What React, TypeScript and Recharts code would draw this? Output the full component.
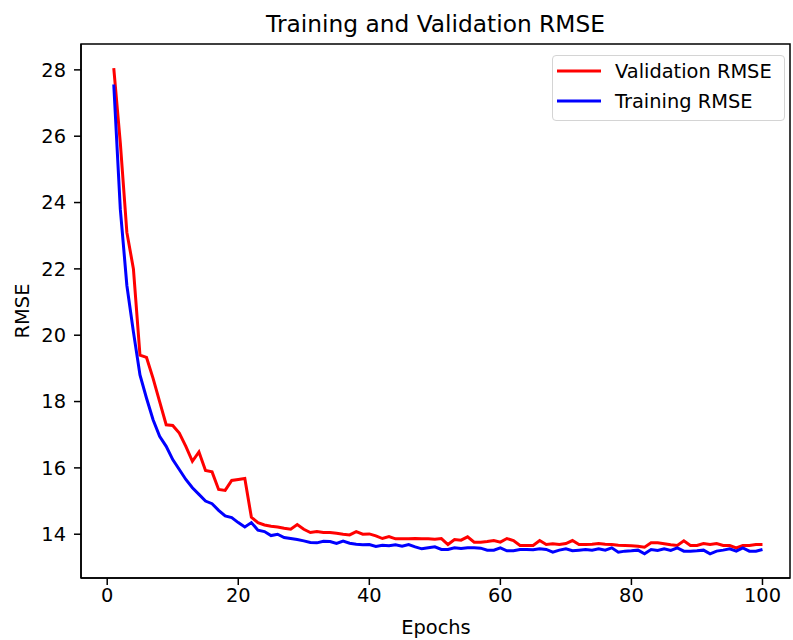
import React from 'react';
import { LineChart, Line, XAxis, YAxis, ReferenceArea, Legend } from 'recharts';

const validationRmse = [
    28.05, 25.8, 23.1, 22.0, 19.4, 19.33, 18.7, 18.0, 17.3, 17.28,
    17.05, 16.65, 16.2, 16.48, 15.92, 15.88, 15.35, 15.32, 15.62, 15.65,
    15.68, 14.51, 14.35, 14.28, 14.24, 14.22, 14.18, 14.15, 14.29, 14.15,
    14.05, 14.08, 14.05, 14.05, 14.03, 14.0, 13.98, 14.08, 14.0, 14.01,
    13.95, 13.87, 13.93, 13.86, 13.86, 13.86, 13.87, 13.86, 13.86, 13.85,
    13.87, 13.69, 13.84, 13.82, 13.92, 13.76, 13.76, 13.78, 13.81, 13.76,
    13.87, 13.81, 13.66, 13.66, 13.66, 13.81, 13.69, 13.71, 13.69, 13.72,
    13.81, 13.69, 13.69, 13.7, 13.72, 13.7, 13.69, 13.67, 13.66, 13.65,
    13.64, 13.61, 13.74, 13.74, 13.71, 13.68, 13.66, 13.8, 13.66, 13.66,
    13.72, 13.69, 13.72, 13.66, 13.66, 13.59, 13.66, 13.66, 13.69, 13.69,
];

const trainingRmse = [
    27.56, 23.8, 21.5, 20.1, 18.8, 18.1, 17.45, 16.95, 16.65, 16.25,
    15.95, 15.65, 15.4, 15.2, 15.0, 14.92, 14.72, 14.55, 14.5, 14.35,
    14.22, 14.35, 14.12, 14.08, 13.96, 14.0, 13.9, 13.87, 13.84, 13.8,
    13.75, 13.74, 13.79, 13.78, 13.72, 13.79, 13.73, 13.7, 13.68, 13.69,
    13.63, 13.67, 13.65, 13.68, 13.64, 13.69, 13.62, 13.56, 13.59, 13.62,
    13.54, 13.54, 13.59, 13.57, 13.59, 13.59, 13.58, 13.52, 13.52, 13.59,
    13.5, 13.5, 13.54, 13.54, 13.53, 13.56, 13.54, 13.46, 13.52, 13.56,
    13.5, 13.52, 13.54, 13.52, 13.56, 13.52, 13.59, 13.46, 13.49, 13.5,
    13.52, 13.41, 13.54, 13.51, 13.56, 13.51, 13.59, 13.49, 13.49, 13.5,
    13.52, 13.41, 13.49, 13.52, 13.56, 13.49, 13.59, 13.49, 13.49, 13.54,
];

const xTicks = [0, 20, 40, 60, 80, 100];
const yTicks = [14, 16, 18, 20, 22, 24, 26, 28];

const FONT = '"DejaVu Sans", sans-serif';
const X_DOMAIN: [number, number] = [-4, 104.2];
const Y_DOMAIN: [number, number] = [12.68, 28.78];

const data = validationRmse.map((v, i) => ({
    epoch: i + 1,
    validation: v,
    training: trainingRmse[i],
}));

const tickStyle = { fill: '#000', fontSize: 19.4, fontFamily: FONT };
const lineStyle = { stroke: '#000', strokeWidth: 1.5 };

function LegendBox() {
    const items = [
        { name: 'Validation RMSE', color: '#ff0000' },
        { name: 'Training RMSE', color: '#0000ff' },
    ];
    return (
        <div
            style={{
                width: 233,
                height: 66,
                boxSizing: 'border-box',
                border: '1px solid #d4d4d4',
                borderRadius: 4,
                background: 'rgba(255,255,255,0.8)',
                position: 'relative',
            }}
        >
            <svg width={231} height={64} style={{ position: 'absolute', left: 0, top: 0 }}>
                {items.map((it, i) => (
                    <g key={it.name}>
                        <line x1={4} x2={48} y1={15 + i * 30} y2={15 + i * 30} stroke={it.color} strokeWidth={3} />
                        <text x={62} y={22 + i * 30} fontSize={19.4} fontFamily={FONT} fill="#000">
                            {it.name}
                        </text>
                    </g>
                ))}
            </svg>
        </div>
    );
}

export default function App() {
    return (
        <div style={{ position: 'absolute', left: 0, top: 0, width: 793, height: 640, background: '#fff' }}>
            <LineChart width={793} height={640} data={data} margin={{ top: 44, right: 3, left: 0, bottom: 22 }}>
                <XAxis
                    dataKey="epoch"
                    type="number"
                    domain={X_DOMAIN}
                    allowDataOverflow
                    ticks={xTicks}
                    height={40}
                    tickSize={7}
                    tickMargin={3}
                    tick={tickStyle}
                    axisLine={lineStyle}
                    tickLine={lineStyle}
                />
                <YAxis
                    type="number"
                    domain={Y_DOMAIN}
                    allowDataOverflow
                    ticks={yTicks}
                    width={81}
                    tickSize={7}
                    tickMargin={8}
                    tick={tickStyle}
                    axisLine={lineStyle}
                    tickLine={lineStyle}
                />
                <ReferenceArea
                    x1={X_DOMAIN[0]}
                    x2={X_DOMAIN[1]}
                    y1={Y_DOMAIN[0]}
                    y2={Y_DOMAIN[1]}
                    fill="none"
                    stroke="#000"
                    strokeWidth={1.5}
                    ifOverflow="visible"
                />
                <Line
                    type="linear"
                    dataKey="validation"
                    name="Validation RMSE"
                    stroke="#ff0000"
                    strokeWidth={3}
                    dot={false}
                    isAnimationActive={false}
                />
                <Line
                    type="linear"
                    dataKey="training"
                    name="Training RMSE"
                    stroke="#0000ff"
                    strokeWidth={3}
                    dot={false}
                    isAnimationActive={false}
                />
                <Legend
                    layout="vertical"
                    align="center"
                    verticalAlign="middle"
                    wrapperStyle={{ position: 'absolute', left: 552, top: 55, width: 233, height: 66 }}
                    content={() => <LegendBox />}
                />
            </LineChart>
            <svg width={793} height={640} style={{ position: 'absolute', left: 0, top: 0, pointerEvents: 'none' }}>
                <text x={435.5} y={31.5} textAnchor="middle" fontSize={23.3} fontFamily={FONT} fill="#000">
                    Training and Validation RMSE
                </text>
                <text x={436} y={634} textAnchor="middle" fontSize={19.4} fontFamily={FONT} fill="#000">
                    Epochs
                </text>
                <text
                    x={0}
                    y={0}
                    transform="translate(29 311) rotate(-90)"
                    textAnchor="middle"
                    fontSize={19.4}
                    fontFamily={FONT}
                    fill="#000"
                >
                    RMSE
                </text>
            </svg>
        </div>
    );
}
